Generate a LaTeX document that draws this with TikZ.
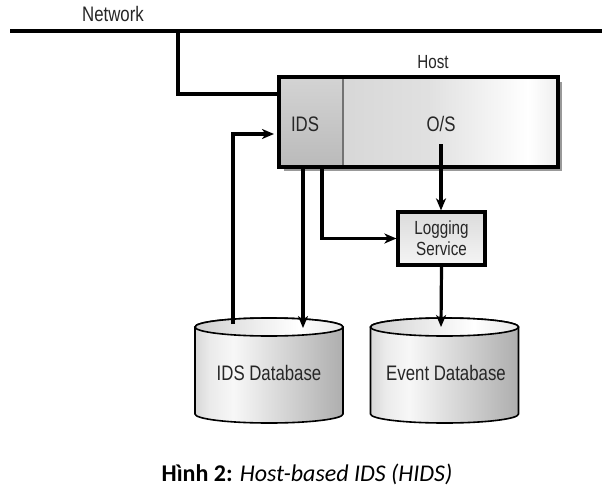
\documentclass[tikz,border=0pt]{standalone}
\usepackage{fontspec}
\setmainfont{Liberation Sans}
\newfontfamily\diafont{Liberation Sans}[FakeStretch=0.8]
\newfontfamily\capfont{Carlito}
\usetikzlibrary{arrows.meta}
\pgfdeclarehorizontalshading{cylshade}{100bp}{color(0bp)=(black!55); color(12bp)=(black!35); color(30bp)=(black!8); color(38bp)=(black!3); color(70bp)=(black!28); color(100bp)=(black!50)}
\pgfdeclarehorizontalshading{topshade}{100bp}{color(0bp)=(black!35); color(40bp)=(black!10); color(60bp)=(white); color(100bp)=(black!25)}
\pgfdeclarehorizontalshading{osshade}{100bp}{color(0bp)=(black!20); color(45bp)=(black!12); color(68bp)=(white); color(100bp)=(black!30)}
\begin{document}
\begin{tikzpicture}[x=1pt,y=-1pt,
  wire/.style={line width=3.2pt},
  arr/.style={wire,-{Stealth[length=12pt,width=10pt,inset=3.5pt]}},
  lbl/.style={font=\diafont\fontsize{21}{23}\selectfont, text=black!85},
  boxline/.style={line width=3.2pt}]
\useasboundingbox (0,0) rectangle (612,495);
\fill[white] (0,0) rectangle (612,495);
% network
\coordinate (netL) at (10,31);
\coordinate (netR) at (602,31);
\coordinate (netJ) at (178,31);
\draw[wire] (netL) -- (netR);
\node[lbl] (netlbl) at (113,14) {Network};
% host shadow
\fill[black!40] (284,82) rectangle (562,171);
% host parts
\node[inner sep=0pt, minimum width=64pt, minimum height=90pt, top color=black!17, bottom color=black!27] (ids) at (311,122) {};
\node[inner sep=0pt, minimum width=215pt, minimum height=90pt, shading=osshade] (os) at (450.5,122) {};
\draw[black!55, line width=2.4pt] (343,77) -- (343,167);
\node[draw, boxline, minimum width=279pt, minimum height=90pt, inner sep=0pt] (host) at (418.5,122) {};
\node[lbl] (idslbl) at (305,124) {IDS};
\node[lbl] (oslbl) at (441,124) {O/S};
\node[lbl, font=\diafont\fontsize{19}{21}\selectfont] (hostlbl) at (433,62) {Host};
% network to host
\draw[wire] (netJ) |- (ids.west |- 0,94);
% logging
\node[draw, boxline, minimum width=87pt, minimum height=53pt, inner sep=0pt, top color=black!14, bottom color=black!4, align=center, lbl, font=\diafont\fontsize{19}{21}\selectfont] (log) at (441.5,238.5) {Logging\\Service};
% cylinders
\foreach \cx/\nm in {269/idsdb,444.5/evdb}{
  \path[draw, line width=1.6pt, shading=cylshade]
    (\cx-74,327) -- (\cx-74,414) arc[start angle=180,end angle=0,x radius=74,y radius=9]
    -- (\cx+74,327) arc[start angle=0,end angle=-180,x radius=74,y radius=9] -- cycle;
  \path[draw, line width=1.6pt, shading=topshade] (\cx,327) ellipse[x radius=74,y radius=9];
  \coordinate (\nm top) at (\cx,327);
}
\node[lbl] (idsdb) at (269,373) {IDS Database};
\node[lbl] (evdb) at (446,373) {Event Database};
% connectors
\coordinate (osout) at (441,144);
\draw[arr] (osout) -- (osout |- log.north);
\draw[arr] (log.south) -- (441,327);
\draw[arr] (303,168) -- (303,328);
\draw[arr] (322,168) |- (log.west);
\coordinate (fb) at (233,324);
\coordinate (fbend) at (274,134);
\draw[arr] (fb) |- (fbend);
% caption
\node[font=\capfont\fontsize{24}{27}\selectfont] (cap) at (307,474) {\textbf{Hình 2:} \textit{Host-based IDS (HIDS)}};
\end{tikzpicture}
\end{document}
